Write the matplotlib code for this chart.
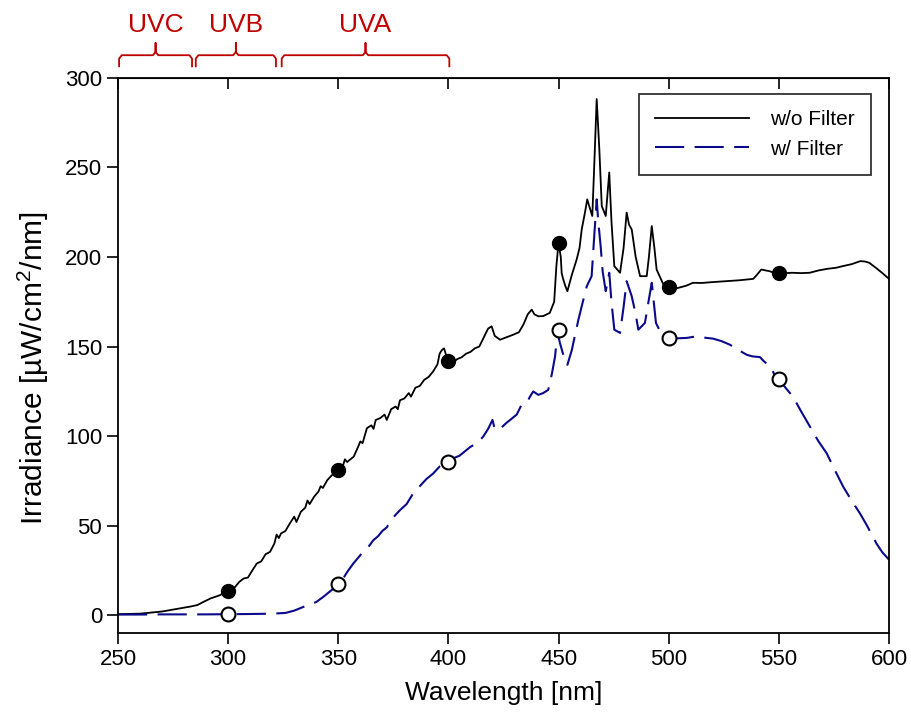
import numpy as np
import matplotlib
matplotlib.use("Agg")
import matplotlib.pyplot as plt
import matplotlib.transforms as mtransforms

plt.rcParams['font.family'] = ['Liberation Sans', 'DejaVu Sans']
plt.rcParams['mathtext.fontset'] = 'custom'
plt.rcParams['mathtext.rm'] = 'Liberation Sans'

# w/o filter spectrum (nm, uW/cm2/nm)
wl_nofilt = [250, 260, 270, 278, 283, 286, 289, 292, 296, 300, 303, 305, 307, 309, 311, 313, 315, 317,
             319, 321, 322, 323, 324, 326, 328, 330, 331, 333, 335, 336, 337, 339, 341, 342, 343, 345,
             347, 348, 350, 352, 353, 354, 357, 359, 360, 361, 363, 365, 366, 367, 369, 371, 372, 374,
             376, 377, 378, 380, 382, 383, 385, 387, 389, 391, 393, 395, 396, 397, 398, 399, 400, 402,
             404, 406, 408, 410, 412, 414, 416, 418, 419.6, 421, 423.4, 426, 429.4, 432, 434, 436, 437.8,
             439, 440.8, 443, 446, 448, 449, 450, 451, 451.4, 452, 453, 454, 456, 458.2, 459.5, 460.5,
             462, 463, 464, 465.3, 466, 467.3, 468.5, 469.6, 471.4, 473, 474, 475.3, 477.9, 479.5, 480.9,
             482, 483.2, 485, 487, 490, 491, 492.3, 493.5, 494.5, 497.6, 500, 502, 505, 508, 511, 515,
             520, 526, 532, 538.4, 540, 542, 544, 546, 548, 550, 553, 556, 560, 564, 568, 572, 576, 579,
             583, 587, 589, 591, 594, 597, 600]
irr_nofilt = [0.5, 0.8, 2.0, 3.7, 4.8, 5.6, 7.5, 9.3, 11, 13.4, 15.5, 18.5, 20.4, 21, 25, 28.8, 30, 34,
              35.3, 40, 45, 43, 45.6, 47, 51.2, 55, 52, 57.7, 60, 64, 62, 66.1, 69, 72, 71, 75.4,
              78, 79, 81, 83, 87, 85.5, 88.5, 94, 97, 96, 104.4, 106, 104, 109, 110, 112, 109, 115,
              116.5, 115, 120, 121, 124, 122, 127, 128, 131.4, 133, 136, 140, 146, 148, 149, 145, 142, 141,
              143, 144, 146, 147, 149, 150, 155, 160, 161.3, 156, 153.8, 155, 156.6, 158, 162.2, 168, 170.6,
              168, 166.9, 167, 168.8, 175, 195, 208, 200, 191, 188, 184, 180.9, 190, 198.6, 205, 215.4,
              225, 232.2, 228, 222.9, 245, 288.2, 260, 228.5, 222.9, 247.2, 220, 194.9, 191.2, 205, 224.8,
              218, 215.4, 200, 189.3, 189.3, 200, 217.3, 205, 193, 184.6, 183, 182, 183, 184, 185.6, 185.5,
              186, 186.5, 187, 187.8, 190, 193, 192.5, 192, 191, 190.8, 191, 191.2, 191, 191.2, 192.5, 193.4, 194, 194.9,
              196, 197.7, 197.5, 196.8, 194, 191, 187.8]

# w/ filter spectrum
wl_filt = [250, 260, 270, 280, 290, 300, 310, 320, 326, 330, 334, 337, 340, 343, 346, 349, 350, 352, 354,
           356.8, 359, 361, 363, 365.9, 368, 370, 372, 374, 376, 378, 381, 384, 387, 390, 393, 396, 398,
           400, 403, 405, 408, 410, 413, 415.8, 418, 420, 421, 423, 426, 429, 431, 433, 435.5, 437,
           438.5, 440.8, 443, 445.3, 447, 448.4, 449.5, 450.6, 452, 454, 456, 457.5, 459, 460.5, 462.8,
           465, 466.2, 467.3, 468, 469.1, 470, 471.4, 473, 474, 475.3, 477.9, 479.5, 480.9, 483.2, 485,
           486.2, 489.2, 490.8, 492.3, 494.2, 496.8, 500, 504, 508.1, 512.6, 516, 520.2, 524, 527.8, 531,
           535.4, 538, 541.4, 543, 546.7, 548, 550, 553, 556.4, 560, 564.1, 568, 571.7, 575, 579.2, 583,
           586.8, 590, 594.3, 597, 600]
irr_filt = [0.3, 0.3, 0.4, 0.4, 0.4, 0.5, 0.6, 0.8, 1.2, 2.5, 4.5, 6, 7.3, 10, 13, 16, 17.6, 20, 24,
            28.8, 32, 35, 37, 41.8, 44, 47, 49, 53, 56, 58.6, 62, 68, 72, 76, 79, 83, 85,
            85.7, 88, 89, 92, 94, 96, 99.7, 104, 109, 104, 103.5, 107, 110, 112, 117, 118.4, 122,
            124.9, 123, 124, 125.8, 135, 144.5, 158, 152, 146, 139.8, 148, 156.6, 165, 172.5, 183.7,
            189.3, 212, 232.2, 220, 206, 192, 180.9, 191.2, 175, 159.4, 157.6, 172, 186.5, 178.1, 168,
            159.4, 163.2, 175, 185.6, 163.2, 156.6, 154.8, 154.6, 154.8, 155.7, 155, 154.4, 153, 151, 148.5,
            145.4, 144.5, 144.1, 142, 138, 134, 131.8, 127, 122, 114, 105.3, 97, 90.4, 82, 71.7, 64,
            56.8, 50, 40, 35, 31]

# marker points every 50 nm
mk_wl = [300, 350, 400, 450, 500, 550]
mk_nofilt = [13.4, 81, 142, 208, 183, 190.8]
mk_filt = [0.5, 17.6, 85.7, 159.4, 155, 131.8]

# UV bands (label, start, end)
band_names = ['UVC', 'UVB', 'UVA']
band_start = [250.5, 285.3, 324.3]
band_end = [283.6, 321.7, 400.4]

fig = plt.figure(figsize=(9.12, 7.28), dpi=100)
ax = fig.add_axes([0.1294, 0.1305, 0.8454, 0.7624])

navy = '#0a0a8a'
ax.plot(wl_nofilt, irr_nofilt, color='black', lw=1.3, label='w/o Filter')
ax.plot(wl_filt, irr_filt, color=navy, lw=1.5, dashes=(14, 5), label='w/ Filter')
ax.plot(mk_wl, mk_nofilt, 'o', color='black', ms=10, zorder=5)
ax.plot(mk_wl, mk_filt, 'o', mfc='white', mec='black', mew=1.5, ms=10, zorder=5)

ax.set_xlim(250, 600)
ax.set_ylim(-10, 300)
ax.set_xticks(np.arange(250, 601, 50))
ax.set_yticks(np.arange(0, 301, 50))
ax.tick_params(axis='both', direction='out', length=8, width=1.2, labelsize=16)
ax.tick_params(axis='y', right=False)
for sp in ax.spines.values():
    sp.set_linewidth(1.3)

sec = ax.secondary_xaxis('top')
sec.set_xticks(np.arange(250, 601, 50))
sec.tick_params(direction='in', length=8, width=1.2, labeltop=False)

ax.set_xlabel('Wavelength [nm]', fontsize=19, labelpad=8)
ax.set_ylabel('Irradiance [\u00b5W/cm$^2$/nm]', fontsize=21.5)
ax.yaxis.set_label_coords(-0.087, 0.477)

leg = ax.legend(loc='upper right', bbox_to_anchor=(0.977, 0.972), borderaxespad=0,
                fontsize=15, frameon=True, fancybox=False, handlelength=4.5,
                handletextpad=1.0, borderpad=0.8, labelspacing=0.5)
leg.get_frame().set_edgecolor('black')
leg.get_frame().set_linewidth(1.3)

# red braces for UV bands above the plot
red = '#c00000'
trans = mtransforms.blended_transform_factory(ax.transData, ax.transAxes)
y_tip, y_bar, y_mid = 1.021, 1.041, 1.063
for name, a, b in zip(band_names, band_start, band_end):
    m = (a + b) / 2
    r = 1.2
    xs = [a, a, a + r, m - r, m, m, m, m + r, b - r, b, b]
    ys = [y_tip, y_bar - 0.006, y_bar, y_bar, y_bar + 0.006, y_mid, y_bar + 0.006, y_bar, y_bar,
          y_bar - 0.006, y_tip]
    ax.plot(xs, ys, color=red, lw=1.3, transform=trans, clip_on=False)
    ax.text(m, 1.096, name, color=red, fontsize=19, ha='center', va='center',
            transform=trans)

fig.savefig('out.png', dpi=100)
